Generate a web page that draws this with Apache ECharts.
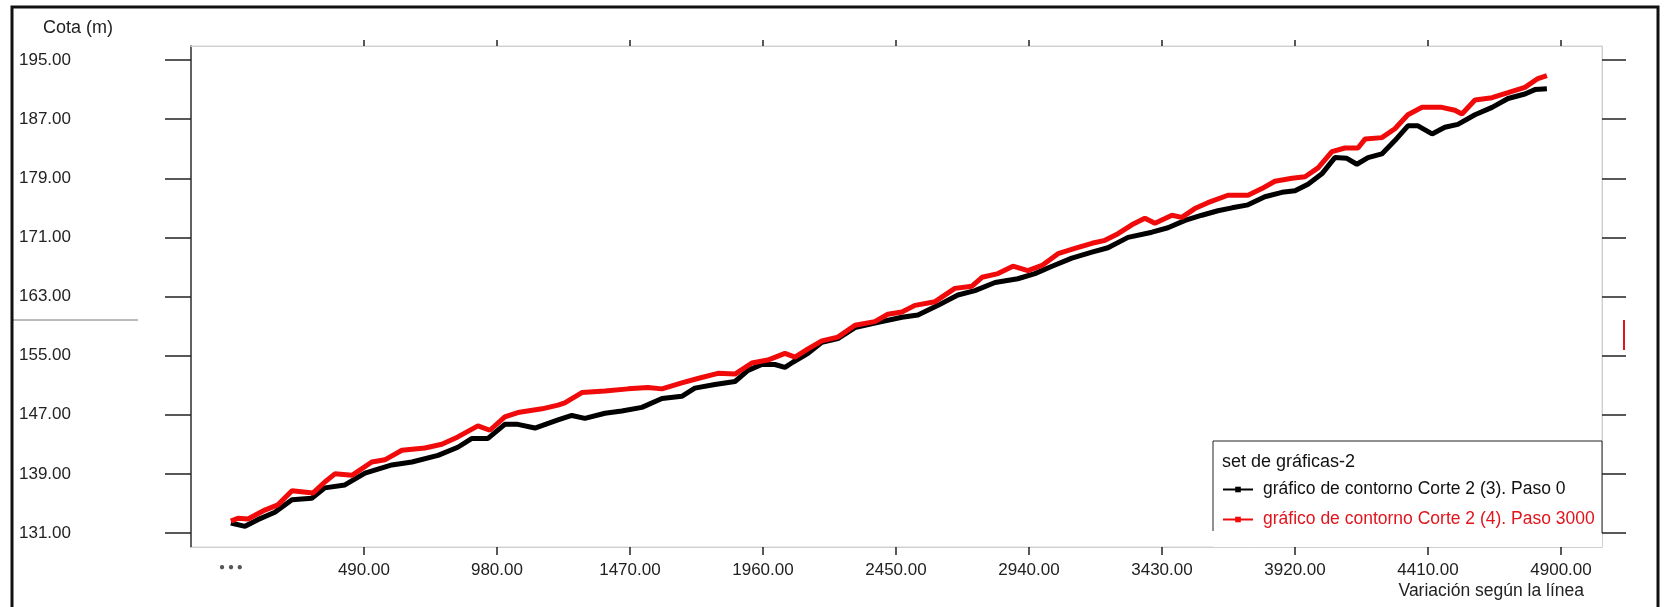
<!DOCTYPE html>
<html>
<head>
<meta charset="utf-8">
<title>Cota (m)</title>
<script src="https://cdn.jsdelivr.net/npm/echarts@6/dist/echarts.min.js"></script>
<style>
    html, body { margin: 0; padding: 0; background: #fff; }
    #chart { width: 1667px; height: 607px; }
</style>
</head>
<body>
<div id="chart"></div>
<script>
// distancias / cotas
var distNegro = [0, 52, 99, 162, 225, 298, 346, 420, 494, 593, 667, 763, 836, 888, 947, 1009, 1057, 1120, 1205,
    1256, 1304, 1378, 1440, 1514, 1588, 1661, 1709, 1783, 1857, 1905, 1956, 2004, 2041, 2070, 2126, 2177, 2236, 2299, 2372,
    2472, 2531, 2605, 2678, 2741, 2815, 2899, 2962, 3025, 3098, 3172, 3231, 3305, 3393, 3452, 3515, 3577, 3636,
    3688, 3747, 3809, 3872, 3920, 3968, 4019, 4067, 4111, 4148, 4189, 4240, 4288, 4336, 4373, 4425, 4472, 4520,
    4583, 4646, 4705, 4767, 4804, 4848];
var cotaNegro = [132.35, 131.9, 132.8, 133.8, 135.5, 135.7, 137.1, 137.5, 139.1, 140.2, 140.6, 141.5, 142.6, 143.8, 143.8, 145.7, 145.7, 145.2, 146.3,
    146.9, 146.5, 147.2, 147.5, 148.0, 149.2, 149.5, 150.6, 151.1, 151.5, 153.0, 153.8, 153.8, 153.4, 154.1, 155.3, 156.8, 157.3, 158.8, 159.4,
    160.2, 160.5, 161.8, 163.2, 163.8, 164.9, 165.4, 166.1, 167.1, 168.2, 169.0, 169.6, 171.0, 171.7, 172.3, 173.3, 174.0, 174.6,
    175.0, 175.4, 176.5, 177.1, 177.3, 178.2, 179.6, 181.8, 181.7, 180.9, 181.8, 182.3, 184.1, 186.1, 186.1, 185.0, 185.9, 186.3,
    187.6, 188.6, 189.8, 190.4, 191.0, 191.1];

var distRojo = [0, 26, 63, 125, 173, 225, 302, 346, 383, 446, 519, 567, 630, 715, 777, 836, 910, 954, 1009, 1057, 1146, 1205,
    1230, 1293, 1378, 1463, 1536, 1588, 1661, 1720, 1794, 1857, 1919, 1978, 2041, 2078, 2126, 2177, 2236, 2299, 2372, 2420,
    2472, 2520, 2594, 2667, 2730, 2767, 2826, 2881, 2936, 2988, 3047, 3109, 3172, 3220, 3268, 3319, 3367, 3404, 3467, 3503, 3551, 3599,
    3673, 3747, 3798, 3846, 3909, 3957, 4005, 4056, 4104, 4152, 4178, 4240, 4288, 4336, 4388, 4461, 4509, 4535,
    4583, 4646, 4705, 4767, 4815, 4848];
var cotaRojo = [132.6, 133.0, 132.9, 134.1, 134.8, 136.7, 136.4, 137.9, 139.0, 138.8, 140.6, 140.9, 142.2, 142.5, 143.0, 144.0, 145.5, 144.9, 146.7, 147.3, 147.8, 148.3,
    148.6, 150.0, 150.2, 150.5, 150.7, 150.5, 151.3, 151.9, 152.6, 152.5, 154.0, 154.4, 155.3, 154.8, 155.9, 157.0, 157.5, 159.1, 159.6, 160.6,
    160.9, 161.8, 162.3, 164.1, 164.4, 165.6, 166.1, 167.1, 166.5, 167.2, 168.8, 169.5, 170.2, 170.6, 171.5, 172.7, 173.6, 172.9, 174.0, 173.7, 174.9, 175.7,
    176.7, 176.7, 177.6, 178.6, 179.0, 179.2, 180.4, 182.6, 183.1, 183.1, 184.3, 184.5, 185.7, 187.6, 188.6, 188.6, 188.2, 187.7,
    189.6, 189.9, 190.6, 191.3, 192.5, 192.9];

var ticksX = [490, 980, 1470, 1960, 2450, 2940, 3430, 3920, 4410, 4900];
var etiquetasX = [0, 490, 980, 1470, 1960, 2450, 2940, 3430, 3920, 4410, 4900];
var ticksY = [131, 139, 147, 155, 163, 171, 179, 187, 195];

var nombreNegro = 'gráfico de contorno Corte 2 (3). Paso 0';
var nombreRojo = 'gráfico de contorno Corte 2 (4). Paso 3000';

function pares(xs, ys) {
    return xs.map(function (x, i) { return [x, ys[i]]; });
}

var fuente = '"Liberation Sans", Arial, sans-serif';
var myChart = echarts.init(document.getElementById('chart'));

var option = {
    backgroundColor: '#fff',
    animation: false,
    textStyle: { fontFamily: fuente },
    grid: {
        left: 191, right: 65, top: 46, bottom: 60,
        show: true, backgroundColor: '#fff', borderColor: '#d4d4d4', borderWidth: 1
    },
    legend: {
        orient: 'vertical',
        left: 1217,
        top: 475,
        padding: 5,
        itemWidth: 30,
        itemHeight: 7,
        itemGap: 11,
        lineStyle: { width: 2 },
        textStyle: { fontSize: 17.5, lineHeight: 19, color: '#111', fontFamily: fuente, padding: [0, 0, 0, 5] },
        data: [
            { name: nombreNegro },
            { name: nombreRojo, textStyle: { color: '#e0141c' } }
        ],
        z: 20
    },
    xAxis: [{
        type: 'value',
        min: -147,
        max: 5051,
        splitLine: { show: false },
        axisLine: { show: true, onZero: false, lineStyle: { color: '#cfcfcf', width: 1 } },
        axisTick: { show: true, length: 8, customValues: ticksX, lineStyle: { color: '#222', width: 1.5 } },
        axisLabel: {
            margin: 15,
            fontSize: 17,
            color: '#222',
            customValues: etiquetasX,
            formatter: function (v) { return v === 0 ? '{p|● ● ●}' : v.toFixed(2); },
            rich: { p: { fontSize: 10, color: '#555' } }
        }
    }, {
        type: 'value',
        position: 'top',
        min: -147,
        max: 5051,
        splitLine: { show: false },
        axisLine: { show: true, onZero: false, lineStyle: { color: '#cfcfcf', width: 1 } },
        axisTick: { show: true, length: 6, customValues: ticksX, lineStyle: { color: '#222', width: 1.5 } },
        axisLabel: { show: false }
    }],
    yAxis: [{
        type: 'value',
        min: 129.1,
        max: 196.9,
        splitLine: { show: false },
        axisLine: { show: true, onZero: false, lineStyle: { color: '#333', width: 1.5 } },
        axisTick: { show: true, length: 26, customValues: ticksY, lineStyle: { color: '#222', width: 1.5 } },
        axisLabel: {
            margin: 172,
            align: 'left',
            fontSize: 17,
            color: '#222',
            customValues: ticksY,
            formatter: function (v) { return v.toFixed(2); }
        }
    }, {
        type: 'value',
        position: 'right',
        min: 129.1,
        max: 196.9,
        splitLine: { show: false },
        axisLine: { show: true, onZero: false, lineStyle: { color: '#cfcfcf', width: 1 } },
        axisTick: { show: true, length: 24, customValues: ticksY, lineStyle: { color: '#222', width: 1.5 } },
        axisLabel: { show: false }
    }],
    graphic: [
        // marco exterior
        { type: 'rect', shape: { x: 12, y: 7, width: 1646, height: 620 }, style: { fill: 'none', stroke: '#111', lineWidth: 3 }, z: 100 },
        { type: 'line', shape: { x1: 12, y1: 320, x2: 138, y2: 320 }, style: { stroke: '#777', lineWidth: 1 } },
        { type: 'line', shape: { x1: 1624, y1: 320, x2: 1624, y2: 350 }, style: { stroke: '#e0141c', lineWidth: 2 } },
        { type: 'text', left: 43, top: 19, style: { text: 'Cota (m)', fontSize: 18, fill: '#222', fontFamily: fuente } },
        { type: 'text', right: 1667 - 1584, top: 582, style: { text: 'Variación según la línea', fontSize: 17.5, fill: '#222', fontFamily: fuente } },
        // caja de la leyenda
        { type: 'rect', shape: { x: 1213, y: 441, width: 389, height: 106 }, style: { fill: '#fff' }, z: 10 },
        { type: 'polyline', shape: { points: [[1213, 531], [1213, 441], [1602, 441], [1602, 533]] }, style: { fill: 'none', stroke: '#222', lineWidth: 1 }, z: 11 },
        { type: 'text', left: 1222, top: 453, style: { text: 'set de gráficas-2', fontSize: 18, fill: '#111', fontFamily: fuente }, z: 12 }
    ],
    series: [{
        name: nombreNegro,
        type: 'line',
        data: pares(distNegro, cotaNegro),
        symbol: 'rect',
        showSymbol: false,
        color: '#000',
        lineStyle: { color: '#000', width: 5 }
    }, {
        name: nombreRojo,
        type: 'line',
        data: pares(distRojo, cotaRojo),
        symbol: 'rect',
        showSymbol: false,
        color: '#f00a0a',
        lineStyle: { color: '#f00a0a', width: 5 }
    }]
};

myChart.setOption(option);
</script>
</body>
</html>
